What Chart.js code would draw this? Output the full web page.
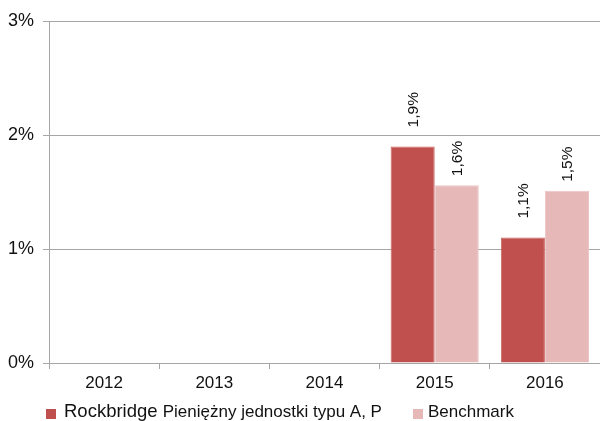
<!DOCTYPE html>
<html>
<head>
<meta charset="utf-8">
<script src="https://cdn.jsdelivr.net/npm/chart.js@4/dist/chart.umd.min.js"></script>
<style>
  html, body { margin: 0; padding: 0; background: #fff; }
  #wrap { width: 600px; height: 421px; }
</style>
</head>
<body>
<div id="wrap"><canvas id="myChart"></canvas></div>
<script>
// values, in %
var years = ['2012', '2013', '2014', '2015', '2016'];
var fundValues = [null, null, null, 1.9, 1.1];
var benchValues = [null, null, null, 1.56, 1.51];
var yTicks = [0, 1, 2, 3];

var fundName = 'Rockbridge Pieniężny jednostki typu A, P';
var benchName = 'Benchmark';

var FONT = '"Liberation Sans", Arial, sans-serif';

// labels above bars, rotated, "1,9%"
var barLabels = {
    id: 'barLabels',
    afterDatasetsDraw: function(chart) {
        var ctx = chart.ctx;
        chart.data.datasets.forEach(function(ds, i) {
            var meta = chart.getDatasetMeta(i);
            meta.data.forEach(function(bar, j) {
                var v = ds.data[j];
                if (v == null) return;
                ctx.save();
                ctx.translate(bar.x + 1, bar.y - ds.labelGap);
                ctx.rotate(-Math.PI / 2);
                ctx.font = '15.5px ' + FONT;
                ctx.fillStyle = '#111';
                ctx.textAlign = 'left';
                ctx.textBaseline = 'middle';
                ctx.fillText(v.toFixed(1).replace('.', ',') + '%', 0, 0);
                ctx.restore();
            });
        });
    }
};

// legend like the original: square + text, first word of the fund a bit larger
var bottomLegend = {
    id: 'bottomLegend',
    afterDraw: function(chart) {
        var ctx = chart.ctx;
        var spots = [{ box: 46, text: 64 }, { box: 413, text: 428 }];
        var yMid = 412;
        chart.data.datasets.forEach(function(ds, i) {
            var s = spots[i];
            ctx.save();
            ctx.fillStyle = ds.backgroundColor;
            ctx.fillRect(s.box, yMid - 3, 10, 10);
            ctx.fillStyle = '#111';
            ctx.textBaseline = 'middle';
            ctx.textAlign = 'left';
            var words = ds.label.split(' ');
            var x = s.text;
            if (i === 0) {
                ctx.font = '18.5px ' + FONT;
                ctx.fillText(words[0], x, yMid);
                x += ctx.measureText(words[0] + ' ').width;
                ctx.font = '17px ' + FONT;
                ctx.fillText(words.slice(1).join(' '), x, yMid);
            } else {
                ctx.font = '17px ' + FONT;
                ctx.fillText(ds.label, x, yMid);
            }
            ctx.restore();
        });
    }
};

var ctx = document.getElementById('myChart');
var chartInstance = new Chart(ctx, {
    type: 'bar',
    data: {
        labels: years,
        datasets: [{
            label: fundName,
            data: fundValues,
            backgroundColor: '#C0504D',
            borderColor: '#C9625F',
            borderWidth: 1,
            labelGap: 19
        }, {
            label: benchName,
            data: benchValues,
            backgroundColor: '#E6B9B8',
            borderColor: '#EBC5C4',
            borderWidth: 1,
            labelGap: 9
        }]
    },
    plugins: [barLabels, bottomLegend],
    options: {
        responsive: true,
        maintainAspectRatio: false,
        animation: false,
        layout: { padding: { top: 21, right: 0, left: 0, bottom: 22 } },
        datasets: { bar: { categoryPercentage: 0.8, barPercentage: 1.0 } },
        scales: {
            x: {
                afterFit: function(s) { s.height = 36; },
                grid: { display: true, offset: true, drawOnChartArea: false, color: '#A6A6A6', tickLength: 6 },
                border: { display: true, color: '#A6A6A6', width: 1 },
                ticks: { color: '#111', font: { family: FONT, size: 17 }, padding: 4 }
            },
            y: {
                min: 0,
                max: 3,
                afterFit: function(s) { s.width = 49; },
                afterBuildTicks: function(s) { s.ticks = yTicks.map(function(v) { return { value: v }; }); },
                grid: { color: '#A6A6A6', tickLength: 6 },
                border: { display: true, color: '#A6A6A6', width: 1 },
                ticks: {
                    color: '#111',
                    font: { family: FONT, size: 18 },
                    padding: 9,
                    callback: function(v) { return v + '%'; }
                }
            }
        },
        plugins: {
            title: { display: false },
            tooltip: { enabled: false },
            legend: { display: false }
        }
    }
});
</script>
</body>
</html>
